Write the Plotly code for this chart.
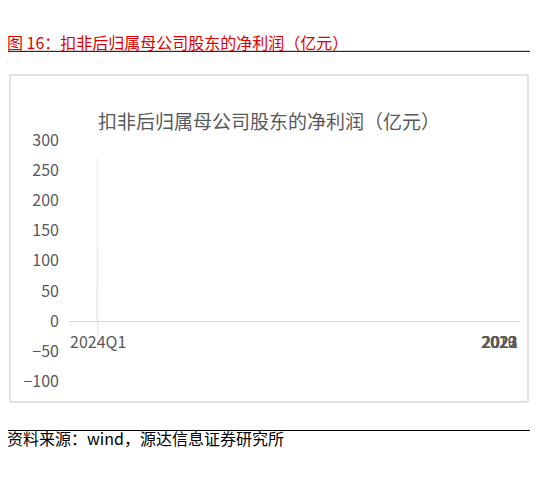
import plotly.graph_objects as go

W, H = 538, 477
FW, FH = W - 16, H - 16  # page has 8px body margin
years = ["2019", "2020", "2021", "2022", "2023", "2024Q1"]
profit = [58, 272, 66, 130, -39, -24]
y_ticks = [-100, -50, 0, 50, 100, 150, 200, 250, 300]

def px(x):
    return (x - 8) / FW

def py(y):
    return 1 - (y - 8) / FH

fig = go.Figure()
fig.add_trace(go.Bar(x=years, y=profit, marker_color="#FF0000", width=0.3))

grey = "#595959"
font = "Noto Sans CJK SC"

fig.update_layout(
    width=FW, height=FH, margin=dict(l=0, r=0, t=0, b=0),
    paper_bgcolor="white", plot_bgcolor="white", showlegend=False,
    font=dict(family=font, color=grey),
    xaxis=dict(type="category", domain=[px(68), px(520)], showticklabels=False,
               showgrid=False, zeroline=False, fixedrange=True),
    yaxis=dict(domain=[py(388), py(134)], range=[-100, 300], tickvals=y_ticks,
               showgrid=False, zeroline=True, zerolinecolor="#d9d9d9", zerolinewidth=1,
               tickfont=dict(size=16, color=grey), ticks="", ticklabelstandoff=8),
)

for yr in years:
    fig.add_annotation(x=yr, y=0, xref="x", yref="y", text=yr, showarrow=False,
                       yanchor="top", yshift=-6, font=dict(size=16, color=grey))

fig.add_annotation(x=px(5), y=py(15), xref="paper", yref="paper", xanchor="left",
                   text="图 16：扣非后归属母公司股东的净利润（亿元）", showarrow=False,
                   font=dict(size=16, color="#E00000", family=font))
fig.add_annotation(x=px(269), y=py(97), xref="paper", yref="paper",
                   text="扣非后归属母公司股东的净利润（亿元）", showarrow=False,
                   font=dict(size=19, color=grey, family=font))
fig.add_annotation(x=px(5), y=py(463), xref="paper", yref="paper", xanchor="left",
                   text="资料来源：wind，源达信息证券研究所", showarrow=False,
                   font=dict(size=16, color="#000000", family=font))

fig.add_shape(type="line", xref="paper", yref="paper", x0=px(5), x1=px(533),
              y0=py(40), y1=py(40), line=dict(color="black", width=1))
fig.add_shape(type="line", xref="paper", yref="paper", x0=px(5), x1=px(533),
              y0=py(440), y1=py(440), line=dict(color="black", width=1))
fig.add_shape(type="rect", xref="paper", yref="paper", x0=px(10), x1=px(528),
              y0=py(410), y1=py(65), line=dict(color="#d9d9d9", width=1.5))

fig.write_html("out.html")
